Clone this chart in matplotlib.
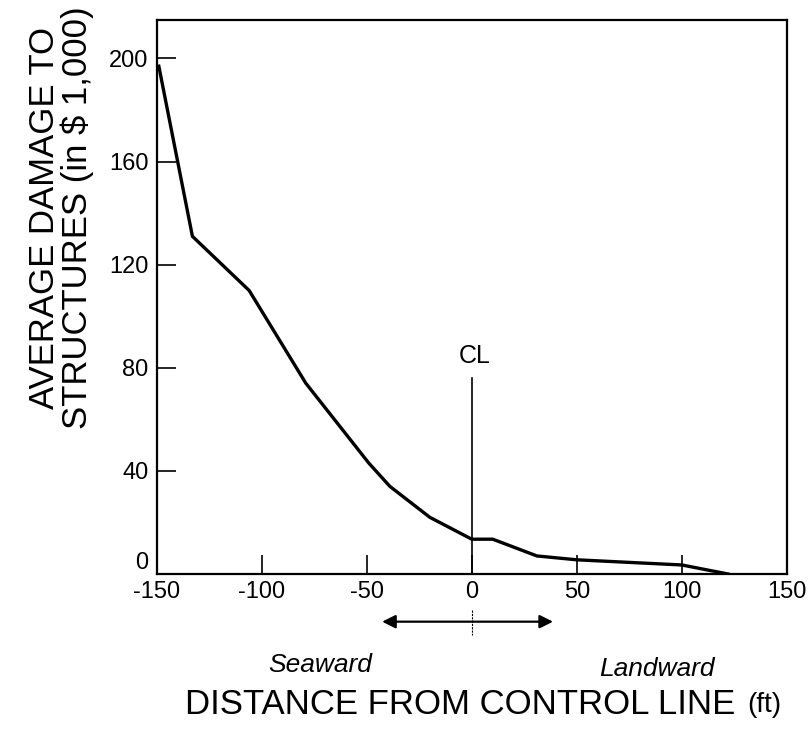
import matplotlib
matplotlib.use("Agg")
import matplotlib.pyplot as plt

plt.rcParams['font.family'] = ['Liberation Sans', 'DejaVu Sans']

# distance from control line (ft) and average damage (in $1,000)
distance = [-149, -133, -106, -79, -49, -39, -20, 0, 10, 31, 50, 100, 122]
damage = [197, 131, 110, 74, 43, 34, 22, 13.5, 13.5, 7, 5.5, 3.5, 0]

xticks = [-150, -100, -50, 0, 50, 100, 150]
yticks = [0, 40, 80, 120, 160, 200]

fig = plt.figure(figsize=(8.12, 7.34), dpi=100)
ax = fig.add_axes([0.193, 0.218, 0.776, 0.755])

ax.plot(distance, damage, color='black', lw=2.4, solid_joinstyle='miter')

# control line marker
ax.plot([0, 0], [0, 76], color='black', lw=1.2)
ax.text(1.5, 80, 'CL', ha='center', va='bottom', fontsize=18)

ax.set_xlim(-150, 150)
ax.set_ylim(0, 215)
ax.set_xticks(xticks)
ax.set_xticklabels([str(v) for v in xticks])
ax.set_yticks(yticks)
ax.set_yticklabels([str(v) for v in yticks])
ax.tick_params(axis='both', direction='in', length=14, width=1.2, labelsize=17)
ax.tick_params(axis='x', pad=5)
ax.tick_params(axis='y', pad=6)
# the "0" on the y axis sits a bit above the baseline
ax.get_yticklabels()[0].set_verticalalignment('bottom')
for s in ax.spines.values():
    s.set_linewidth(1.6)

fig.text(0.075, 0.703, 'AVERAGE DAMAGE TO\nSTRUCTURES (in $ 1,000)',
         rotation=90, ha='center', va='center', fontsize=25,
         linespacing=1.0)

# direction arrow below the axis
ax.annotate('', xy=(-44, -18.5), xytext=(40, -18.5), xycoords='data',
            arrowprops=dict(arrowstyle='<|-|>', color='black', lw=1.6,
                            mutation_scale=20), annotation_clip=False)
ax.plot([0, 0], [-14, -23.5], color='black', lw=0.8, ls=(0, (2, 1)), clip_on=False)
ax.text(-72, -35.5, 'Seaward', ha='center', va='center', fontsize=19,
        style='italic', clip_on=False)
ax.text(88, -37, 'Landward', ha='center', va='center', fontsize=19,
        style='italic', clip_on=False)

# axis title with the smaller unit label after it
main = fig.text(0.228, 0.04, 'DISTANCE FROM CONTROL LINE', ha='left',
                va='center', fontsize=25)
fig.canvas.draw()
bb = main.get_window_extent()
fig.text(bb.x1 / fig.bbox.width + 0.014, 0.04, '(ft)', ha='left',
         va='center', fontsize=20)

fig.savefig('out.png', dpi=100)
